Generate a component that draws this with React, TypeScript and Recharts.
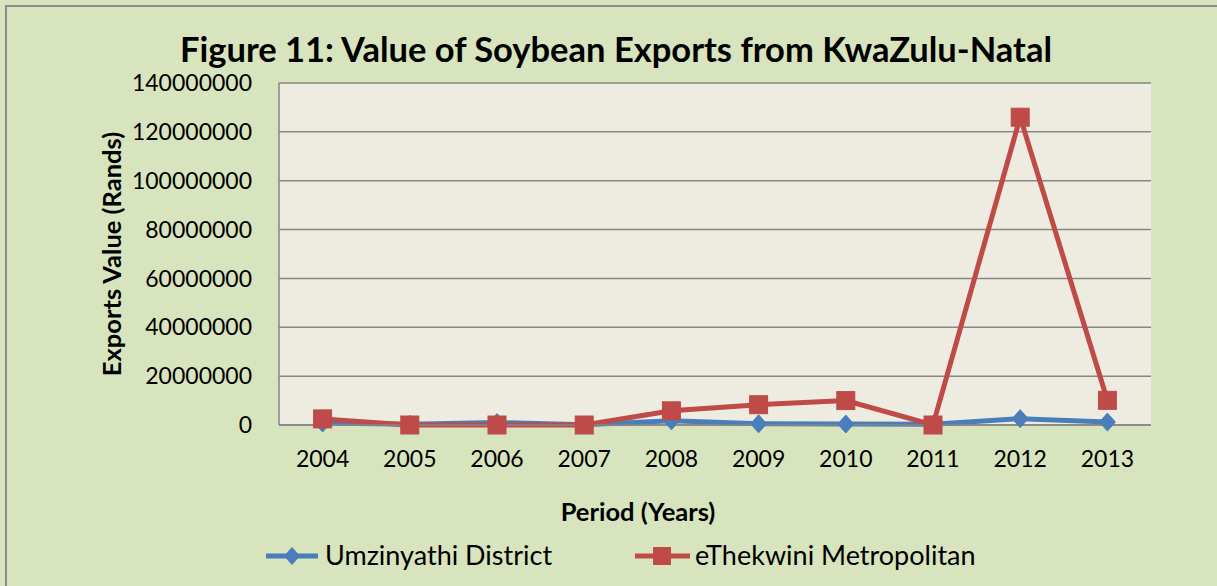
import React from 'react';
import { LineChart, Line, XAxis, YAxis, CartesianGrid } from 'recharts';

const years = ['2004', '2005', '2006', '2007', '2008', '2009', '2010', '2011', '2012', '2013'];
const umzinyathi = [800000, 300000, 1000000, 100000, 1700000, 500000, 400000, 300000, 2600000, 1200000];
const ethekwini = [2500000, 0, 0, 0, 5800000, 8300000, 10000000, 0, 126000000, 10100000];
const yTicks = [0, 20000000, 40000000, 60000000, 80000000, 100000000, 120000000, 140000000];
const seriesNames = ['Umzinyathi District', 'eThekwini Metropolitan'];

const data = years.map((y, i) => ({ year: y, umz: umzinyathi[i], eth: ethekwini[i] }));

const BLUE = '#4a7ebb';
const RED = '#be4b48';
const FONT = 'Lato, "Open Sans", sans-serif';

const DiamondDot = (props: any) => {
  const { cx, cy } = props;
  if (cx == null || cy == null) return null;
  return <path d={`M${cx},${cy - 9} L${cx + 8},${cy} L${cx},${cy + 9} L${cx - 8},${cy} Z`} fill={BLUE} stroke={BLUE} strokeWidth={1} />;
};

const SquareDot = (props: any) => {
  const { cx, cy } = props;
  if (cx == null || cy == null) return null;
  return <rect x={cx - 9} y={cy - 9} width={18} height={18} fill={RED} stroke={RED} strokeWidth={1} />;
};

export default function App() {
  return (
    <div style={{ position: 'absolute', left: 0, top: 0, width: 1217, height: 586, background: '#d7e4bd', overflow: 'hidden' }}>
      <div style={{ position: 'absolute', left: 5, top: 5, width: 1230, height: 600, borderLeft: '2px solid #8c8c8c', borderTop: '2px solid #8c8c8c' }} />
      <LineChart width={1217} height={586} data={data} margin={{ top: 83, right: 66, bottom: 0, left: 0 }} style={{ position: 'absolute', left: 0, top: 0 }}>
        <CartesianGrid vertical={false} stroke="#868686" strokeWidth={1.5} fill="#eeece1" fillOpacity={1} />
        <XAxis dataKey="year" height={161} padding={{ left: 43.6, right: 43.6 }} axisLine={{ stroke: '#868686', strokeWidth: 1.5 }} tickLine={false} tickSize={0} tickMargin={26}
          tick={{ fontFamily: FONT, fontSize: 23, fill: '#000' }} interval={0} />
        <YAxis width={279} domain={[0, 140000000]} ticks={yTicks} axisLine={{ stroke: '#868686', strokeWidth: 1.5 }} tickLine={false} tickSize={0} tickMargin={27}
          tick={{ fontFamily: FONT, fontSize: 23, fill: '#000' }} interval={0} />
        <Line type="linear" dataKey="umz" name={seriesNames[0]} stroke={BLUE} strokeWidth={5} dot={<DiamondDot />} activeDot={false} isAnimationActive={false} />
        <Line type="linear" dataKey="eth" name={seriesNames[1]} stroke={RED} strokeWidth={5} dot={<SquareDot />} activeDot={false} isAnimationActive={false} />
      </LineChart>
      <svg width={1217} height={586} style={{ position: 'absolute', left: 0, top: 0, pointerEvents: 'none' }}>
        <text x={616} y={62} textAnchor="middle" fontFamily={FONT} fontWeight="bold" fontSize={34.5} fill="#000">Figure 11: Value of Soybean Exports from KwaZulu-Natal</text>
        <text x={638} y={521} textAnchor="middle" fontFamily={FONT} fontWeight="bold" fontSize={25.5} fill="#000">Period (Years)</text>
        <text x={0} y={0} transform="translate(121,254) rotate(-90)" textAnchor="middle" fontFamily={FONT} fontWeight="bold" fontSize={25.5} fill="#000">Exports Value (Rands)</text>
        <line x1={266} y1={556} x2={318} y2={556} stroke={BLUE} strokeWidth={5} />
        <path d="M292,547 L300,556 L292,565 L284,556 Z" fill={BLUE} />
        <text x={325} y={565} fontFamily={FONT} fontSize={27} fill="#000">{seriesNames[0]}</text>
        <line x1={635} y1={556} x2={690} y2={556} stroke={RED} strokeWidth={5} />
        <rect x={653} y={547} width={18} height={18} fill={RED} />
        <text x={695} y={565} fontFamily={FONT} fontSize={27} fill="#000">{seriesNames[1]}</text>
      </svg>
    </div>
  );
}
